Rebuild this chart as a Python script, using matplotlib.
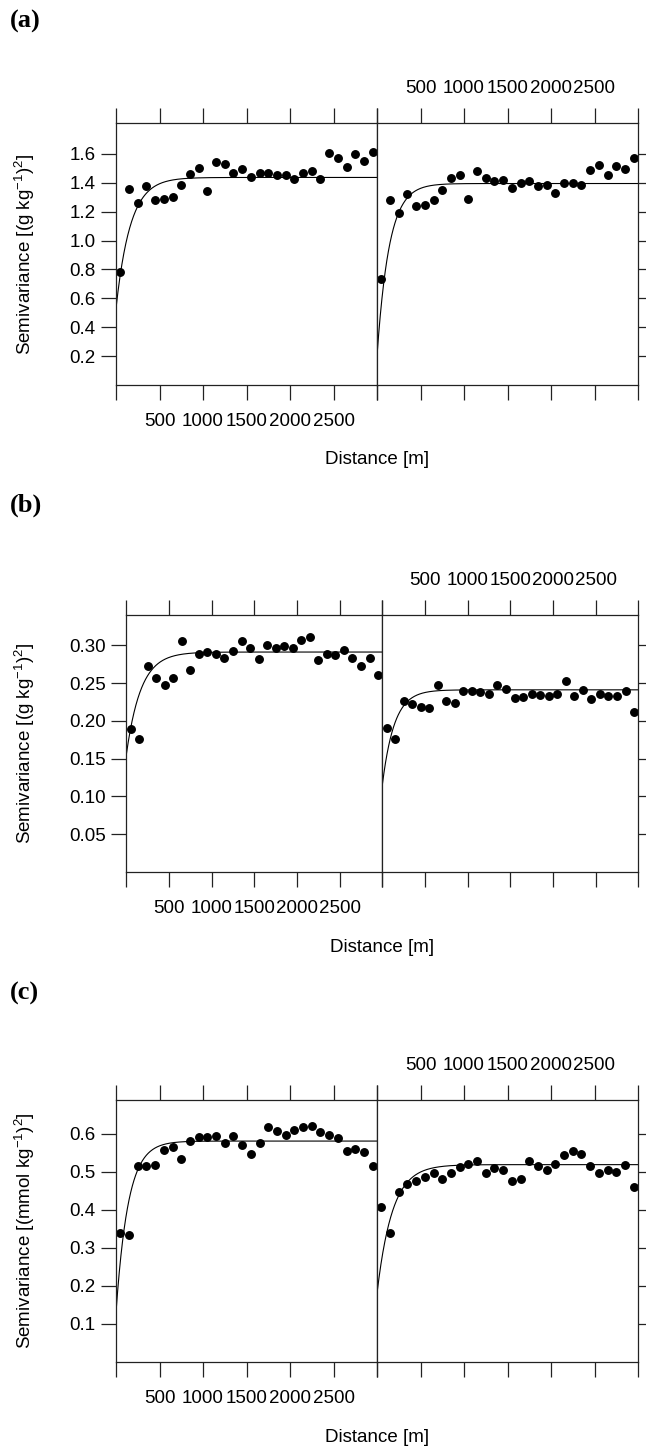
import numpy as np
import matplotlib
matplotlib.use("Agg")
import matplotlib.pyplot as plt

plt.rcParams['font.family'] = ['Liberation Sans', 'DejaVu Sans']
plt.rcParams['mathtext.fontset'] = 'custom'
plt.rcParams['mathtext.rm'] = 'Liberation Sans'
plt.rcParams['mathtext.it'] = 'Liberation Sans:italic'
plt.rcParams['mathtext.bf'] = 'Liberation Sans:bold'

# ---------------- data ----------------
lag = np.arange(50, 3000, 100)  # lag distances (m)

a_left = [0.784, 1.359, 1.257, 1.377, 1.281, 1.285, 1.299, 1.384, 1.462, 1.503,
          1.343, 1.545, 1.531, 1.467, 1.494, 1.441, 1.467, 1.467, 1.455, 1.451,
          1.423, 1.467, 1.485, 1.428, 1.607, 1.575, 1.508, 1.598, 1.552, 1.614]
a_right = [0.736, 1.283, 1.193, 1.324, 1.237, 1.248, 1.283, 1.349, 1.430, 1.451,
           1.285, 1.485, 1.430, 1.414, 1.421, 1.363, 1.398, 1.409, 1.375, 1.386,
           1.329, 1.398, 1.398, 1.386, 1.490, 1.522, 1.453, 1.513, 1.497, 1.570]
b_left = [0.189, 0.176, 0.273, 0.257, 0.248, 0.257, 0.305, 0.267, 0.288, 0.291,
          0.289, 0.283, 0.293, 0.306, 0.296, 0.282, 0.300, 0.296, 0.299, 0.296,
          0.307, 0.311, 0.280, 0.288, 0.287, 0.294, 0.283, 0.272, 0.283, 0.260]
b_right = [0.191, 0.176, 0.226, 0.222, 0.218, 0.217, 0.248, 0.226, 0.224, 0.239,
           0.239, 0.238, 0.235, 0.248, 0.242, 0.230, 0.232, 0.236, 0.234, 0.233,
           0.236, 0.253, 0.233, 0.241, 0.229, 0.235, 0.233, 0.233, 0.239, 0.212]
c_left = [0.339, 0.335, 0.516, 0.516, 0.518, 0.557, 0.566, 0.535, 0.582, 0.593,
          0.593, 0.595, 0.577, 0.595, 0.571, 0.547, 0.577, 0.619, 0.607, 0.596,
          0.609, 0.618, 0.621, 0.604, 0.598, 0.588, 0.555, 0.560, 0.551, 0.515]
c_right = [0.408, 0.339, 0.447, 0.469, 0.477, 0.487, 0.498, 0.481, 0.497, 0.512,
           0.522, 0.528, 0.497, 0.509, 0.506, 0.477, 0.482, 0.528, 0.515, 0.504,
           0.521, 0.544, 0.554, 0.548, 0.515, 0.498, 0.506, 0.500, 0.518, 0.460]

# exponential model fits: nugget, sill, range parameter (m)
a_models = [(0.53, 1.437, 165), (0.20, 1.395, 140)]
b_models = [(0.155, 0.291, 170), (0.115, 0.241, 140)]
c_models = [(0.13, 0.581, 140), (0.18, 0.519, 175)]

x_ticks = [0, 500, 1000, 1500, 2000, 2500, 3000]
x_ticklabels = ['', '500', '1000', '1500', '2000', '2500', '']

a_yticks = [0.2, 0.4, 0.6, 0.8, 1.0, 1.2, 1.4, 1.6]
b_yticks = [0.05, 0.10, 0.15, 0.20, 0.25, 0.30]
c_yticks = [0.1, 0.2, 0.3, 0.4, 0.5, 0.6]

a_ylabel = r'Semivariance [(g kg$^{-1}$)$^2$]'
b_ylabel = r'Semivariance [(g kg$^{-1}$)$^2$]'
c_ylabel = r'Semivariance [(mmol kg$^{-1}$)$^2$]'

# ---------------- layout ----------------
W, H = 646, 1449
fig = plt.figure(figsize=(W / 100, H / 100), dpi=100)

FS = 13.5
TICKLEN = 10.5


def px_axes(x0, x1, ytop, ybot):
    return fig.add_axes([x0 / W, 1 - ybot / H, (x1 - x0) / W, (ybot - ytop) / H])


def model_curve(params, h):
    c0, sill, rng = params
    return c0 + (sill - c0) * (1 - np.exp(-h / rng))


rows = [
    dict(tag='(a)', tagy=21, x0=116, xm=377, x1=638, yt=123, yb=385, ylim=(0, 1.814),
         yt_vals=a_yticks, fmt='{:.1f}', data=(a_left, a_right), models=a_models, ylabel=a_ylabel),
    dict(tag='(b)', tagy=505, x0=126.3, xm=382.3, x1=638.3, yt=615, yb=872, ylim=(0, 0.34),
         yt_vals=b_yticks, fmt='{:.2f}', data=(b_left, b_right), models=b_models, ylabel=b_ylabel),
    dict(tag='(c)', tagy=993, x0=116, xm=377, x1=638, yt=1100, yb=1362, ylim=(0, 0.689),
         yt_vals=c_yticks, fmt='{:.1f}', data=(c_left, c_right), models=c_models, ylabel=c_ylabel),
]

h = np.linspace(0, 3000, 800)

for r in rows:
    axL = px_axes(r['x0'], r['xm'], r['yt'], r['yb'])
    axR = px_axes(r['xm'], r['x1'], r['yt'], r['yb'])
    for k, ax in enumerate((axL, axR)):
        ax.plot(lag, r['data'][k], 'o', color='black', ms=5.4, mec='black', clip_on=False)
        ax.plot(h, model_curve(r['models'][k], h), color='black', lw=0.8)
        ax.set_xlim(0, 3000)
        ax.set_ylim(*r['ylim'])
        ax.set_xticks(x_ticks)
        ax.set_yticks(r['yt_vals'])
        for s in ax.spines.values():
            s.set_linewidth(0.9)
            s.set_color('#222222')
        ax.tick_params(direction='out', length=TICKLEN, width=0.9, color='#222222',
                       labelsize=FS, top=True, bottom=True)
    # left panel: bottom labels, y labels on left
    axL.set_xticklabels(x_ticklabels)
    axL.tick_params(axis='x', labelbottom=True, labeltop=False, pad=10)
    axL.tick_params(axis='y', left=True, right=False, labelleft=True, pad=4)
    axL.set_yticklabels([r['fmt'].format(v) for v in r['yt_vals']])
    # right panel: top labels, y ticks on right
    axR.set_xticklabels(x_ticklabels)
    axR.tick_params(axis='x', labelbottom=False, labeltop=True, pad=8)
    axR.tick_params(axis='y', left=False, right=True, labelleft=False, labelright=False)

    fig.text(10 / W, 1 - r['tagy'] / H, r['tag'], family='Liberation Serif', weight='bold',
             fontsize=19, ha='left', va='center')
    fig.text(r['xm'] / W, 1 - (r['yb'] + 75) / H, 'Distance [m]', fontsize=FS,
             ha='center', va='center')
    fig.text(25 / W, 1 - ((r['yt'] + r['yb']) / 2) / H, r['ylabel'], fontsize=FS,
             rotation=90, ha='center', va='center')

fig.savefig('out.png', dpi=100)
